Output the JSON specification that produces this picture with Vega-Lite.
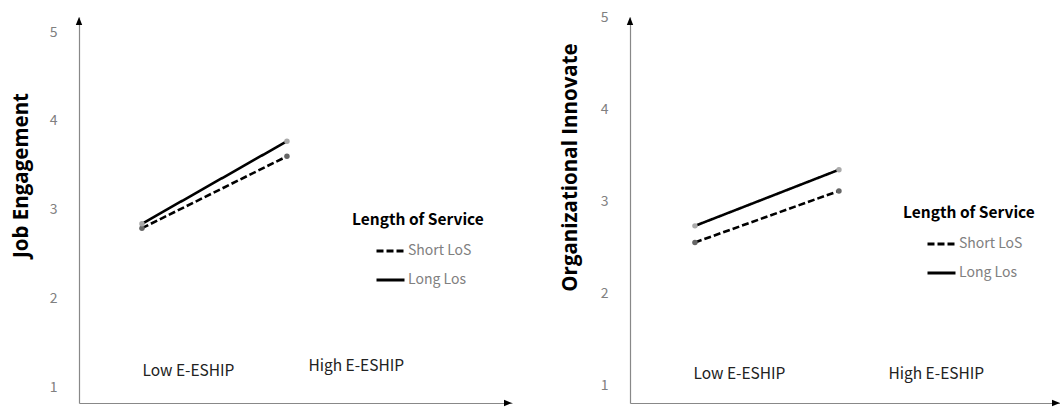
{
  "$schema": "https://vega.github.io/schema/vega-lite/v6.json",
  "padding": {"left": 11, "top": 10, "right": 0, "bottom": 4},
  "spacing": 48,
  "background": "white",
  "config": {
    "view": {"stroke": null},
    "font": "Noto Sans CJK KR",
    "axis": {"domainColor": "#888888", "domainWidth": 1.2, "ticks": false, "tickSize": 0, "grid": false, "labelFont": "Noto Sans CJK KR", "titleFont": "Open Sans"},
    "legend": {
      "orient": "none", "padding": 0, "symbolType": "stroke", "symbolStrokeWidth": 3, "symbolSize": 784,
      "symbolStrokeColor": "black", "symbolOffset": 23, "labelOffset": 2,
      "titleFontSize": 15.5, "titleFontWeight": "bold", "titleColor": "black", "titlePadding": 7,
      "labelFontSize": 14, "labelColor": "#808080", "rowPadding": 6,
      "titleFont": "Noto Sans CJK KR", "labelFont": "Noto Sans CJK KR"
    }
  },
  "datasets": {
    "je": [
      {"eship": "Low E-ESHIP", "level": 1, "group": "Short LoS", "value": 2.79},
      {"eship": "High E-ESHIP", "level": 2, "group": "Short LoS", "value": 3.60},
      {"eship": "Low E-ESHIP", "level": 1, "group": "Long Los", "value": 2.84},
      {"eship": "High E-ESHIP", "level": 2, "group": "Long Los", "value": 3.77}
    ],
    "oi": [
      {"eship": "Low E-ESHIP", "level": 1, "group": "Short LoS", "value": 2.55},
      {"eship": "High E-ESHIP", "level": 2, "group": "Short LoS", "value": 3.11},
      {"eship": "Low E-ESHIP", "level": 1, "group": "Long Los", "value": 2.73},
      {"eship": "High E-ESHIP", "level": 2, "group": "Long Los", "value": 3.34}
    ],
    "one": [{}]
  },
  "hconcat": [
    {
      "width": 433,
      "height": 386,
      "layer": [
        {
          "data": {"name": "je"},
          "mark": {"type": "line", "color": "black", "strokeWidth": 2.6},
          "encoding": {
            "x": {"field": "level", "type": "quantitative", "scale": {"domain": [0.566, 3.552], "nice": false, "zero": false},
              "axis": {"values": [1, 2], "title": null, "labelExpr": "datum.value == 1 ? 'Low E-ESHIP' : 'High E-ESHIP'",
                "labelAlign": "left", "labelBaseline": "middle",
                "labelOffset": {"condition": {"test": "datum.value == 2", "value": 21}, "value": 0},
                "labelPadding": {"condition": {"test": "datum.value == 2", "value": -38}, "value": -33},
                "labelFontSize": 15.5, "labelColor": "#222222", "labelFlush": false, "labelOverlap": false, "labelBound": false}},
            "y": {"field": "value", "type": "quantitative", "scale": {"domain": [0.82, 5.17], "nice": false, "zero": false}, "title": "Job Engagement",
              "axis": {"values": [1, 2, 3, 4, 5], "format": "d", "labelColor": "#808080", "labelFontSize": 14, "labelPadding": 22,
                "titleFontSize": 20.5, "titleFontWeight": "bold", "titleColor": "black", "titlePadding": 18, "titleY": 158}},
            "strokeDash": {"field": "group", "type": "nominal", "title": "Length of Service",
              "scale": {"domain": ["Short LoS", "Long Los"], "range": [[7, 3], [1, 0]]},
              "legend": {"legendX": 273, "legendY": 196}}
          }
        },
        {
          "data": {"name": "je"},
          "mark": {"type": "point", "filled": true, "size": 30, "opacity": 1},
          "encoding": {
            "x": {"field": "level", "type": "quantitative", "scale": {"domain": [0.566, 3.552], "nice": false, "zero": false}},
            "y": {"field": "value", "type": "quantitative", "scale": {"domain": [0.82, 5.17], "nice": false, "zero": false}},
            "color": {"field": "group", "type": "nominal", "scale": {"domain": ["Short LoS", "Long Los"], "range": ["#666666", "#aaaaaa"]}, "legend": null}
          }
        },
        {
          "data": {"name": "one"},
          "mark": {"type": "point", "shape": "M-0.8,2L0.8,2L0,0Z", "filled": true, "color": "black", "size": 64, "opacity": 1},
          "encoding": {
            "x": {"datum": 0.566, "type": "quantitative", "scale": {"domain": [0.566, 3.552], "nice": false, "zero": false}},
            "y": {"datum": 5.17, "type": "quantitative", "scale": {"domain": [0.82, 5.17], "nice": false, "zero": false}}
          }
        },
        {
          "data": {"name": "one"},
          "mark": {"type": "point", "shape": "M-2,-0.8L-2,0.8L0,0Z", "filled": true, "color": "black", "size": 64, "opacity": 1},
          "encoding": {
            "x": {"datum": 3.552, "type": "quantitative", "scale": {"domain": [0.566, 3.552], "nice": false, "zero": false}},
            "y": {"datum": 0.82, "type": "quantitative", "scale": {"domain": [0.82, 5.17], "nice": false, "zero": false}}
          }
        }
      ]
    },
    {
      "width": 430,
      "height": 386,
      "layer": [
        {
          "data": {"name": "oi"},
          "mark": {"type": "line", "color": "black", "strokeWidth": 2.6},
          "encoding": {
            "x": {"field": "level", "type": "quantitative", "scale": {"domain": [0.549, 3.535], "nice": false, "zero": false},
              "axis": {"values": [1, 2], "title": null, "labelExpr": "datum.value == 1 ? 'Low E-ESHIP' : 'High E-ESHIP'",
                "labelAlign": "left", "labelBaseline": "middle",
                "labelOffset": {"condition": {"test": "datum.value == 2", "value": 49}, "value": -2},
                "labelPadding": -30,
                "labelFontSize": 15.5, "labelColor": "#222222", "labelFlush": false, "labelOverlap": false, "labelBound": false}},
            "y": {"field": "value", "type": "quantitative", "scale": {"domain": [0.805, 5.0], "nice": false, "zero": false}, "title": "Organizational  Innovate",
              "axis": {"values": [1, 2, 3, 4, 5], "format": "d", "labelColor": "#808080", "labelFontSize": 14, "labelPadding": 22,
                "titleFontSize": 20.5, "titleFontWeight": "bold", "titleColor": "black", "titlePadding": 20, "titleY": 150}},
            "strokeDash": {"field": "group", "type": "nominal", "title": "Length of Service",
              "scale": {"domain": ["Short LoS", "Long Los"], "range": [[7, 3], [1, 0]]},
              "legend": {"legendX": 273, "legendY": 189}}
          }
        },
        {
          "data": {"name": "oi"},
          "mark": {"type": "point", "filled": true, "size": 30, "opacity": 1},
          "encoding": {
            "x": {"field": "level", "type": "quantitative", "scale": {"domain": [0.549, 3.535], "nice": false, "zero": false}},
            "y": {"field": "value", "type": "quantitative", "scale": {"domain": [0.805, 5.0], "nice": false, "zero": false}},
            "color": {"field": "group", "type": "nominal", "scale": {"domain": ["Short LoS", "Long Los"], "range": ["#666666", "#aaaaaa"]}, "legend": null}
          }
        },
        {
          "data": {"name": "one"},
          "mark": {"type": "point", "shape": "M-0.8,2L0.8,2L0,0Z", "filled": true, "color": "black", "size": 64, "opacity": 1},
          "encoding": {
            "x": {"datum": 0.549, "type": "quantitative", "scale": {"domain": [0.549, 3.535], "nice": false, "zero": false}},
            "y": {"datum": 5.0, "type": "quantitative", "scale": {"domain": [0.805, 5.0], "nice": false, "zero": false}}
          }
        },
        {
          "data": {"name": "one"},
          "mark": {"type": "point", "shape": "M-2,-0.8L-2,0.8L0,0Z", "filled": true, "color": "black", "size": 64, "opacity": 1},
          "encoding": {
            "x": {"datum": 3.535, "type": "quantitative", "scale": {"domain": [0.549, 3.535], "nice": false, "zero": false}},
            "y": {"datum": 0.805, "type": "quantitative", "scale": {"domain": [0.805, 5.0], "nice": false, "zero": false}}
          }
        }
      ]
    }
  ],
  "resolve": {
    "scale": {"x": "independent", "y": "independent", "color": "independent", "strokeDash": "independent"},
    "legend": {"strokeDash": "independent", "color": "independent"}
  }
}
